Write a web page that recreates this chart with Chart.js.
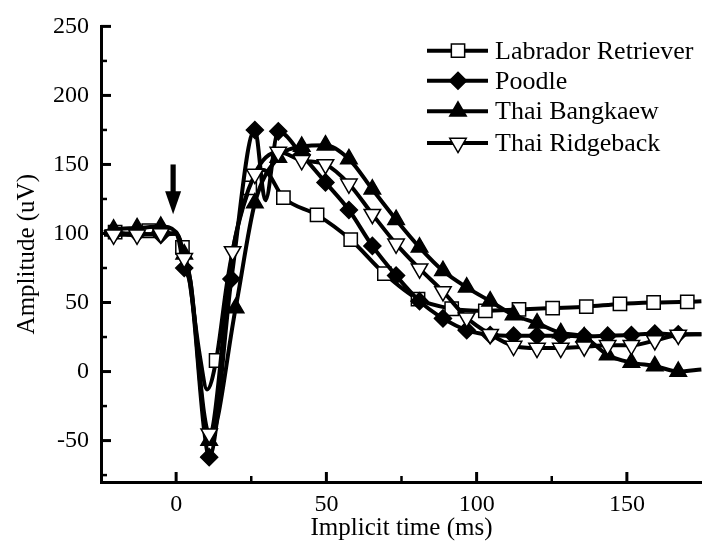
<!DOCTYPE html>
<html>
<head>
<meta charset="utf-8">
<script src="https://cdn.jsdelivr.net/npm/chart.js@4.4.0/dist/chart.umd.min.js"></script>
<style>
  html, body { margin: 0; padding: 0; background: #fff; }
</style>
</head>
<body>
<canvas id="graficoERG" width="702" height="550"></canvas>
<script>
// Nomes das séries (legenda)
const nomesSeries = ['Labrador Retriever', 'Poodle', 'Thai Bangkaew', 'Thai Ridgeback'];

// Labrador Retriever: pontos com marcador (tempo em ms, amplitude em uV)
const labTempo = [-20.3, -9.1, 2.1, 13.3, 24.5, 35.7, 46.9, 58.1, 69.3, 80.5, 91.7, 102.9, 114.1, 125.3, 136.5, 147.7, 158.9, 170.1];
const labAmp = [101, 102, 90, 8, 133, 126, 113.5, 95.5, 71, 52.5, 45.5, 44, 45, 46, 47, 49, 50, 50.5];
// pontos da curva sem marcador
const labCurvaTempo = [-24, -15, -3, 0, 4, 8, 10.3, 17, 20, 29, 174.8];
const labCurvaAmp = [100, 99, 100, 100, 72, 10, -13, 65, 100, 146, 51];

// Poodle
const poodleTempo = [-20.8, -13.0, -5.1, 2.7, 11.0, 18.4, 26.2, 34.0, 41.8, 49.7, 57.5, 65.3, 73.2, 81.0, 88.8, 96.7, 104.5, 112.3, 120.1, 128.0, 135.8, 143.6, 151.5, 159.3, 167.1];
const poodleAmp = [100, 100, 99, 75, -62, 67, 175, 174, 157, 137, 117, 91, 69.5, 51, 38.5, 30, 26.5, 26, 26, 26, 25.5, 26, 26.5, 27.5, 27];
const poodleCurvaTempo = [-24, 0, 4.8, 9.3, 29.7, 174.8];
const poodleCurvaAmp = [100, 100, 62, -42, 124, 27];

// Thai Bangkaew
const bangTempo = [-20.8, -13.0, -5.1, 2.7, 11.0, 19.8, 26.2, 34.0, 41.8, 49.7, 57.5, 65.3, 73.2, 81.0, 88.8, 96.7, 104.5, 112.3, 120.1, 128.0, 135.8, 143.6, 151.5, 159.3, 167.1];
const bangAmp = [103, 104, 105, 85, -50, 46, 122, 155, 163, 164, 154, 132, 110, 90, 73, 61, 51, 41, 35, 28, 25, 12, 6.5, 4, 0];
const bangCurvaTempo = [-24, 0, 4.8, 9.3, 174.8];
const bangCurvaAmp = [101, 101, 65, -35, 1.5];

// Thai Ridgeback
const ridgeTempo = [-20.8, -13.0, -5.1, 2.7, 11.0, 18.8, 26.2, 34.0, 41.8, 49.7, 57.5, 65.3, 73.2, 81.0, 88.8, 96.7, 104.5, 112.3, 120.1, 128.0, 135.8, 143.6, 151.5, 159.3, 167.1];
const ridgeAmp = [99, 99, 100, 82, -45, 87, 143, 159, 153, 150, 136, 114, 92.5, 74.5, 58, 39, 27, 18.5, 17, 17, 18, 19, 19, 22.5, 26.5];
const ridgeCurvaTempo = [-24, 0, 4.8, 9.3, 174.8];
const ridgeCurvaAmp = [99, 100, 65, -30, 27];

// Marcas dos eixos
const xTicks = [0, 25, 50, 75, 100, 125, 150];
const xTickLabels = ['0', '', '50', '', '100', '', '150'];
const yTicks = [-75, -50, -25, 0, 25, 50, 75, 100, 125, 150, 175, 200, 225, 250];
const yTickLabels = ['', '-50', '', '0', '', '50', '', '100', '', '150', '', '200', '', '250'];

// Seta do estímulo (tempo e amplitudes de início/fim)
const setaTempo = -1;
const setaInicio = 150;
const setaFim = 114;

Chart.defaults.font.family = "'Liberation Serif', 'Times New Roman', serif";
Chart.defaults.color = '#000';

// Junta os pontos com marcador e os da curva, ordenados pelo tempo
function montarPontos(tempos, amps, curvaTempos, curvaAmps) {
    const pontos = [];
    tempos.forEach((t, i) => pontos.push({ x: t, y: amps[i], marca: true }));
    curvaTempos.forEach((t, i) => pontos.push({ x: t, y: curvaAmps[i], marca: false }));
    return pontos.sort((a, b) => a.x - b.x);
}

const estilos = [
    { pointStyle: 'rect', raio: 9.4, fundo: '#fff', rotacao: 0 },
    { pointStyle: 'rectRot', raio: 8.5, fundo: '#000', rotacao: 0 },
    { pointStyle: 'triangle', raio: 9.5, fundo: '#000', rotacao: 0 },
    { pointStyle: 'triangle', raio: 9.5, fundo: '#fff', rotacao: 180 }
];

const pontosSeries = [
    montarPontos(labTempo, labAmp, labCurvaTempo, labCurvaAmp),
    montarPontos(poodleTempo, poodleAmp, poodleCurvaTempo, poodleCurvaAmp),
    montarPontos(bangTempo, bangAmp, bangCurvaTempo, bangCurvaAmp),
    montarPontos(ridgeTempo, ridgeAmp, ridgeCurvaTempo, ridgeCurvaAmp)
];

// Desenha um marcador com a mesma geometria do Chart.js (usado na legenda)
function desenharMarcador(ctx, e, x, y) {
    const r = e.raio;
    ctx.beginPath();
    if (e.pointStyle === 'rect') {
        const s = r * Math.SQRT1_2;
        ctx.rect(x - s, y - s, 2 * s, 2 * s);
    } else if (e.pointStyle === 'rectRot') {
        ctx.moveTo(x, y - r);
        ctx.lineTo(x + r, y);
        ctx.lineTo(x, y + r);
        ctx.lineTo(x - r, y);
        ctx.closePath();
    } else {
        const d = e.rotacao === 180 ? -1 : 1;
        const w = r * Math.sin(Math.PI / 3);
        ctx.moveTo(x, y - d * r);
        ctx.lineTo(x + w, y + d * r / 2);
        ctx.lineTo(x - w, y + d * r / 2);
        ctx.closePath();
    }
    ctx.fillStyle = e.fundo;
    ctx.fill();
    ctx.lineWidth = 1.5;
    ctx.strokeStyle = '#000';
    ctx.stroke();
}

// Marcas dos eixos viradas para dentro, como no Origin
const marcasInternas = {
    id: 'marcasInternas',
    beforeDatasetsDraw(chart) {
        const { ctx, chartArea, scales } = chart;
        ctx.save();
        ctx.strokeStyle = '#000';
        xTicks.forEach(v => {
            const px = scales.x.getPixelForValue(v);
            const len = v % 50 === 0 ? 10 : 6;
            ctx.lineWidth = v % 50 === 0 ? 3 : 2.5;
            ctx.beginPath();
            ctx.moveTo(px, chartArea.bottom);
            ctx.lineTo(px, chartArea.bottom - len);
            ctx.stroke();
        });
        yTicks.forEach(v => {
            const py = scales.y.getPixelForValue(v);
            const len = v % 50 === 0 ? 10 : 6;
            ctx.lineWidth = v % 50 === 0 ? 3 : 2.5;
            ctx.beginPath();
            ctx.moveTo(chartArea.left, py);
            ctx.lineTo(chartArea.left + len, py);
            ctx.stroke();
        });
        ctx.restore();
    }
};

// Seta do estímulo e legenda
const extras = {
    id: 'extras',
    afterDatasetsDraw(chart) {
        const { ctx, scales } = chart;
        ctx.save();
        const sx = scales.x.getPixelForValue(setaTempo);
        const yIni = scales.y.getPixelForValue(setaInicio);
        const yFim = scales.y.getPixelForValue(setaFim);
        const cabeca = 23;
        ctx.fillStyle = '#000';
        ctx.fillRect(sx - 2.6, yIni, 5.2, yFim - yIni - cabeca + 2);
        ctx.beginPath();
        ctx.moveTo(sx - 8, yFim - cabeca);
        ctx.lineTo(sx + 8, yFim - cabeca);
        ctx.lineTo(sx, yFim);
        ctx.closePath();
        ctx.fill();

        // legenda
        const linhasY = [50.7, 80.7, 111.3, 143];
        ctx.font = "26px 'Liberation Serif', 'Times New Roman', serif";
        ctx.textBaseline = 'middle';
        nomesSeries.forEach((nome, i) => {
            const y = linhasY[i];
            ctx.strokeStyle = '#000';
            ctx.lineWidth = 4;
            ctx.beginPath();
            ctx.moveTo(427, y);
            ctx.lineTo(488, y);
            ctx.stroke();
            desenharMarcador(ctx, estilos[i], 458, y);
            ctx.fillStyle = '#000';
            ctx.fillText(nome, 495, y + 1);
        });
        ctx.restore();
    }
};

const grafico = new Chart(document.getElementById('graficoERG'), {
    type: 'line',
    data: {
        datasets: nomesSeries.map((nome, i) => ({
            label: nome,
            data: pontosSeries[i],
            borderColor: '#000',
            borderWidth: 4,
            cubicInterpolationMode: 'monotone',
            pointStyle: estilos[i].pointStyle,
            pointRotation: estilos[i].rotacao,
            pointRadius: c => (c.raw && c.raw.marca) ? estilos[i].raio : 0,
            pointHoverRadius: 0,
            pointBackgroundColor: estilos[i].fundo,
            pointBorderColor: '#000',
            pointBorderWidth: 1.5,
            order: 4 - i
        }))
    },
    options: {
        responsive: false,
        animation: false,
        devicePixelRatio: 1,
        events: [],
        layout: { padding: { top: 22, right: 0, left: 0, bottom: 0 } },
        plugins: {
            legend: { display: false },
            tooltip: { enabled: false }
        },
        scales: {
            x: {
                type: 'linear',
                min: -25,
                max: 175,
                afterBuildTicks: s => { s.ticks = xTicks.map(v => ({ value: v })); },
                afterFit: s => { s.height = 68; },
                grid: { drawOnChartArea: false, drawTicks: false },
                border: { display: true, color: '#000', width: 3 },
                ticks: {
                    callback: (v, i) => xTickLabels[i],
                    autoSkip: false,
                    maxRotation: 0,
                    padding: 8,
                    color: '#000',
                    font: { size: 24 }
                },
                title: {
                    display: true,
                    text: 'Implicit time (ms)',
                    color: '#000',
                    font: { size: 25 },
                    padding: { top: 0, bottom: 7 }
                }
            },
            y: {
                type: 'linear',
                min: -80,
                max: 250,
                afterBuildTicks: s => { s.ticks = yTicks.map(v => ({ value: v })); },
                afterFit: s => { s.width = 101; },
                grid: { drawOnChartArea: false, drawTicks: false },
                border: { display: true, color: '#000', width: 3 },
                ticks: {
                    callback: (v, i) => yTickLabels[i],
                    autoSkip: false,
                    padding: 12,
                    color: '#000',
                    font: { size: 24 }
                },
                title: {
                    display: true,
                    text: 'Amplitude (uV)',
                    color: '#000',
                    font: { size: 25 },
                    padding: { top: 12, bottom: 0 }
                }
            }
        }
    },
    plugins: [marcasInternas, extras]
});
</script>
</body>
</html>
